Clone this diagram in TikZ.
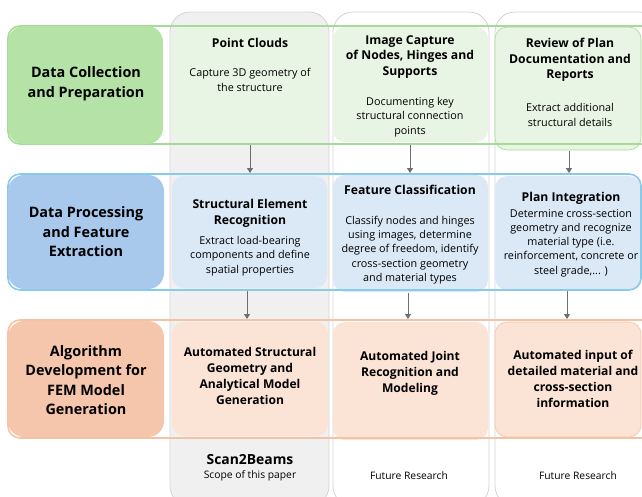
\documentclass[tikz,border=0pt]{standalone}
\usepackage{fontspec}
\setmainfont{Open Sans}
\usetikzlibrary{arrows.meta}
\definecolor{gLab}{HTML}{B5E2A6}
\definecolor{gLine}{HTML}{A6DB97}
\definecolor{gIn}{HTML}{E9F5E4}
\definecolor{bLab}{HTML}{A9C9EC}
\definecolor{bLine}{HTML}{88CAEA}
\definecolor{bIn}{HTML}{DBE8F6}
\definecolor{oLab}{HTML}{F5C6AB}
\definecolor{oLine}{HTML}{F3C3A6}
\definecolor{oIn}{HTML}{FBE3D6}
\definecolor{colFill}{HTML}{F0F0F0}
\definecolor{colLine}{HTML}{D4D4D4}
\definecolor{arr}{HTML}{6E6E6E}
\tikzset{
  colbox/.style={draw=colLine, line width=0.8pt, rounded corners=20pt},
  band/.style={line width=1.6pt, rounded corners=12pt},
  labbox/.style={rounded corners=16pt},
  inbox/.style={rounded corners=12pt, line width=0.6pt},
  head/.style={font=\bfseries\fontsize{12.2}{15.7}\selectfont, align=center, inner sep=0pt},
  body/.style={font=\fontsize{10.8}{14.2}\selectfont, align=center, inner sep=0pt},
  labtxt/.style={font=\bfseries\fontsize{14.4}{19.5}\selectfont, align=center, inner sep=0pt},
  rtxt/.style={font=\bfseries\fontsize{12.1}{16}\selectfont, align=center, inner sep=0pt},
  foot/.style={font=\fontsize{10.3}{12}\selectfont, inner sep=0pt},
  flow/.style={draw=arr, line width=1pt, -{Triangle[length=5pt,width=6pt]}},
}
\begin{document}
\begin{tikzpicture}[x=1pt,y=-1pt]
\useasboundingbox (0,0) rectangle (642,496);
% columns
\draw[colbox, fill=colFill] (170,12) rectangle (329,506);
\draw[colbox, fill=white] (333,12) rectangle (489,506);
\draw[colbox, fill=white] (495,12) rectangle (660,506);
% row 1
\fill[gIn] (172,27) [rounded corners=12pt] rectangle (327,142);
\fill[gIn] (333,27) [rounded corners=12pt] rectangle (488,142);
\draw[inbox, draw=gLine, fill=gIn] (495,27) rectangle (641,150);
\draw[band, draw=gLine] (8,26) rectangle (700,144);
\fill[labbox, gLab] (8,26) rectangle (163,144);
% row 2
\fill[bIn] (172,176) [rounded corners=12pt] rectangle (327,288);
\fill[bIn] (333,175) [rounded corners=12pt] rectangle (488,292);
\fill[bIn] (495,176) [rounded corners=12pt] rectangle (641,290);
\draw[band, draw=bLine] (8,174) rectangle (641,290);
\fill[labbox, bLab] (8,175) rectangle (164,289);
% row 3
\fill[oIn] (172,322) [rounded corners=12pt] rectangle (328,436);
\fill[oIn] (333,322) [rounded corners=12pt] rectangle (488,440);
\draw[inbox, draw=oLine, fill=oIn] (495,322) rectangle (641,437);
\draw[band, draw=oLine] (8,320) rectangle (700,438);
\fill[labbox, oLab] (8,321) rectangle (164,437);

% labels
\node[labtxt] (l1) at (86,84) {Data Collection\\and Preparation};
\node[labtxt] (l2) at (86,232) {Data Processing\\and Feature\\Extraction};
\node[labtxt] (l3) at (86,380) {Algorithm\\Development for\\FEM Model\\Generation};

% row 1 texts
\node[head] (h11) at (250,43) {Point Clouds};
\node[body] (b11) at (250,80) {Capture 3D geometry of\\the structure};
\node[head] (h12) at (410,57) {Image Capture\\of Nodes, Hinges and\\Supports};
\node[body] (b12) at (410,117) {Documenting key\\structural connection\\points};
\node[head] (h13) at (570,60) {Review of Plan\\Documentation and\\Reports};
\node[body] (b13) at (570,115) {Extract additional\\structural details};

% row 2 texts
\node[head] (h21) at (250,213) {Structural Element\\Recognition};
\node[body] (b21) at (250,256) {Extract load-bearing\\components and define\\spatial properties};
\node[head] (h22) at (410,190) {Feature Classification};
\node[body] (b22) at (410,250) {Classify nodes and hinges\\using images, determine\\degree of freedom, identify\\cross-section geometry\\and material types};
\node[head] (h23) at (571,198) {Plan Integration};
\node[body] (b23) at (571,243) {Determine cross-section\\geometry and recognize\\material type (i.e.\\reinforcement, concrete or\\steel grade,... )};

% row 3 texts
\node[rtxt] (r31) at (250,376) {Automated Structural\\Geometry and\\Analytical Model\\Generation};
\node[rtxt] (r32) at (410,373) {Automated Joint\\Recognition and\\Modeling};
\node[rtxt] (r33) at (573,379) {Automated input of\\detailed material and\\cross-section\\information};

% bottom
\node[font=\bfseries\fontsize{13.9}{15}\selectfont, inner sep=0pt] (s2b) at (250,460) {Scan2Beams};
\node[foot] (scope) at (250,476) {Scope of this paper};
\node[foot] (fr2) at (409,476) {Future Research};
\node[foot] (fr3) at (578,476) {Future Research};

% arrow anchor coordinates
\coordinate (a1s) at (250,145); \coordinate (a1e) at (250,173);
\coordinate (a2s) at (410,145); \coordinate (a2e) at (410,173);
\coordinate (a3s) at (569,151); \coordinate (a3e) at (569,173);
\coordinate (c1s) at (247,291); \coordinate (c1e) at (247,319);
\coordinate (c2s) at (408,293); \coordinate (c2e) at (408,319);
\coordinate (c3s) at (567,291); \coordinate (c3e) at (567,319);
\draw[flow] (a1s) -- (a1e);
\draw[flow] (a2s) -- (a2e);
\draw[flow] (a3s) -- (a3e);
\draw[flow] (c1s) -- (c1e);
\draw[flow] (c2s) -- (c2e);
\draw[flow] (c3s) -- (c3e);
\end{tikzpicture}
\end{document}
